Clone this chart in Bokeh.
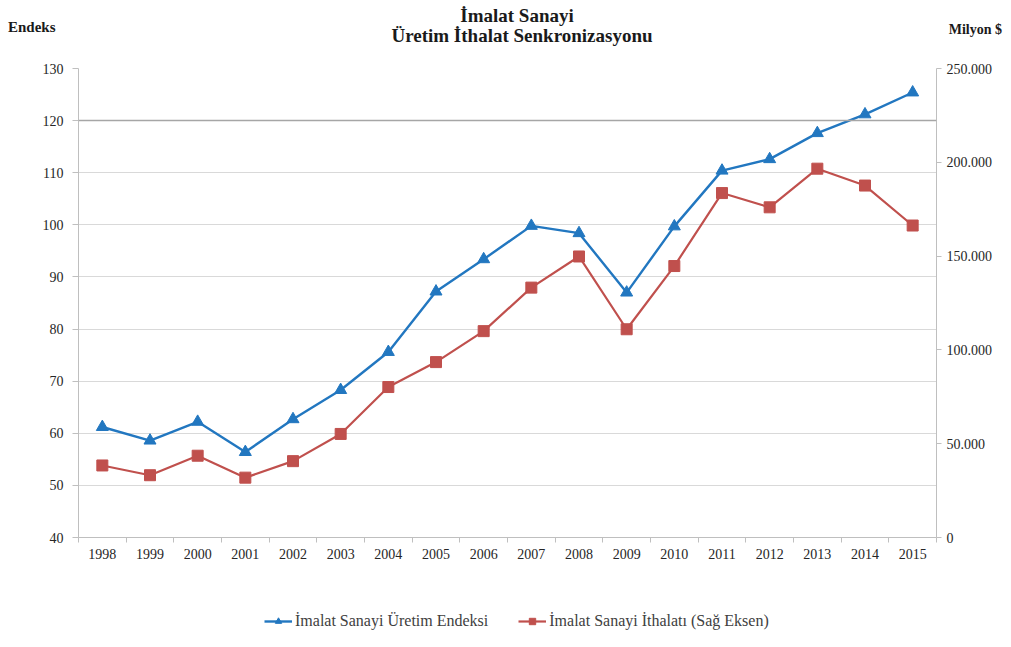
from bokeh.plotting import figure
from bokeh.models import (ColumnDataSource, Range1d, LinearAxis, FixedTicker,
                          Legend, LegendItem, Span, Div)
from bokeh.layouts import column
from bokeh.embed import file_html
from bokeh.resources import INLINE

years = list(range(1998, 2016))
uretim_endeksi = [61.2, 58.6, 62.2, 56.4, 62.7, 68.3, 75.6, 87.2, 93.4, 99.8, 98.4, 87.0,
                  99.7, 110.4, 112.6, 117.6, 121.2, 125.4]
ithalat = [38400, 33200, 43600, 31900, 40700, 55200, 80200, 93500, 110000, 133200, 149800,
           111000, 144700, 183600, 176000, 196600, 187600, 166300]
left_ticks = list(range(40, 131, 10))
right_ticks = list(range(0, 250001, 50000))
title_lines = ["İmalat Sanayi", "Üretim İthalat Senkronizasyonu"]
left_title = "Endeks"
right_title = "Milyon $"
series_names = ["İmalat Sanayi Üretim Endeksi", "İmalat Sanayi İthalatı (Sağ Eksen)"]

SERIF = "Liberation Serif"
BLUE = "#2277c0"
RED = "#c0504d"
TICK_COL = "#262626"
AX_COL = "#bfbfbf"

W = 995
HEAD = 60
FIG_H = 512
FOOT_H = 59
LEFT = 78

head_html = (
    '<div style="position:relative;width:%dpx;height:%dpx;font-family:\'%s\',serif;'
    'font-weight:bold;color:#1a1a1a;">' % (W, HEAD, SERIF)
    + '<div style="position:absolute;left:0;width:%dpx;top:5px;text-align:center;font-size:19px;line-height:21px;">%s</div>'
    % (2 * 517, title_lines[0])
    + '<div style="position:absolute;left:0;width:%dpx;top:25px;text-align:center;font-size:19px;line-height:21px;">%s</div>'
    % (2 * 522, title_lines[1])
    + '<div style="position:absolute;left:8px;top:19px;font-size:15px;line-height:16px;">%s</div>' % left_title
    + '<div style="position:absolute;right:-7px;top:22px;font-size:14px;line-height:16px;">%s</div>' % right_title
    + '</div>'
)
header = Div(text=head_html, width=W, height=HEAD, margin=0)

p = figure(width=W, height=FIG_H, output_backend="svg", toolbar_location=None,
           x_range=Range1d(1997.5, 2015.5), y_range=Range1d(40, 130),
           min_border_left=LEFT, min_border_right=58, min_border_top=8, min_border_bottom=35,
           margin=0)
p.outline_line_color = None
p.background_fill_color = "white"
p.border_fill_color = "white"
p.extra_y_ranges = {"right": Range1d(0, 250000)}

# grid
p.xgrid.grid_line_color = None
p.ygrid.ticker = FixedTicker(ticks=left_ticks)
p.ygrid.grid_line_color = "#d9d9d9"
p.ygrid.grid_line_width = 1
p.add_layout(Span(location=120, dimension="width", line_color="#a6a6a6", line_width=1.5))

# axes
xa = p.xaxis[0]
xa.ticker = FixedTicker(ticks=years, minor_ticks=[y - 0.5 for y in years] + [2015.5])
xa.major_tick_line_color = None
xa.major_tick_out = 5
xa.minor_tick_line_color = AX_COL
xa.minor_tick_in = 0
xa.minor_tick_out = 5
xa.axis_line_color = AX_COL
xa.major_label_text_font = SERIF
xa.major_label_text_font_size = "14px"
xa.major_label_text_color = TICK_COL
xa.major_label_standoff = 6

ya = p.yaxis[0]
ya.ticker = FixedTicker(ticks=left_ticks)
ya.axis_line_color = AX_COL
ya.major_tick_line_color = AX_COL
ya.major_tick_in = 0
ya.major_tick_out = 6
ya.minor_tick_line_color = None
ya.major_label_text_font = SERIF
ya.major_label_text_font_size = "14px"
ya.major_label_text_color = TICK_COL
ya.major_label_standoff = 9

ra = LinearAxis(y_range_name="right", ticker=FixedTicker(ticks=right_ticks))
ra.major_label_overrides = {t: ("{:,}".format(t).replace(",", ".")) for t in right_ticks}
ra.axis_line_color = AX_COL
ra.major_tick_line_color = AX_COL
ra.major_tick_in = 0
ra.major_tick_out = 5
ra.minor_tick_line_color = None
ra.major_label_text_font = SERIF
ra.major_label_text_font_size = "14px"
ra.major_label_text_color = TICK_COL
ra.major_label_standoff = 5
p.add_layout(ra, "right")

src = ColumnDataSource(dict(year=years, u=uretim_endeksi, i=ithalat))

line_kw1 = dict(line_color=BLUE, line_width=2.4)
mark_kw1 = dict(marker="triangle", size=12, fill_color=BLUE, line_color=BLUE)
line_kw2 = dict(line_color=RED, line_width=2.2)
mark_kw2 = dict(marker="square", size=11, fill_color=RED, line_color=RED)

p.line("year", "u", source=src, **line_kw1)
p.scatter("year", "u", source=src, **mark_kw1)
p.line("year", "i", source=src, y_range_name="right", **line_kw2)
p.scatter("year", "i", source=src, y_range_name="right", **mark_kw2)

# footer figure carrying the legend (its renderers draw the same data far outside its view)
f = figure(width=W, height=FOOT_H, output_backend="svg", toolbar_location=None,
           x_range=Range1d(0, 1), y_range=Range1d(0, 1), min_border=0, margin=0)
f.axis.visible = False
f.grid.visible = False
f.outline_line_color = None
fl1 = f.line("year", "u", source=src, **line_kw1)
fm1 = f.scatter("year", "u", source=src, marker="triangle", size=9, fill_color=BLUE, line_color=BLUE)
fl2 = f.line("year", "i", source=src, **line_kw2)
fm2 = f.scatter("year", "i", source=src, marker="square", size=9, fill_color=RED, line_color=RED)
legend = Legend(items=[LegendItem(label=series_names[0], renderers=[fl1, fm1]),
                       LegendItem(label=series_names[1], renderers=[fl2, fm2])],
                orientation="horizontal", location=(264 - LEFT, 1),
                label_text_font=SERIF, label_text_font_size="16px",
                label_text_color="#404040", glyph_width=28, glyph_height=16,
                spacing=30, label_standoff=3, border_line_color=None,
                background_fill_alpha=0, padding=0, margin=0)
f.add_layout(legend, "center")

layout = column(header, p, f, spacing=0)
open("out.html", "w").write(file_html(layout, INLINE))
